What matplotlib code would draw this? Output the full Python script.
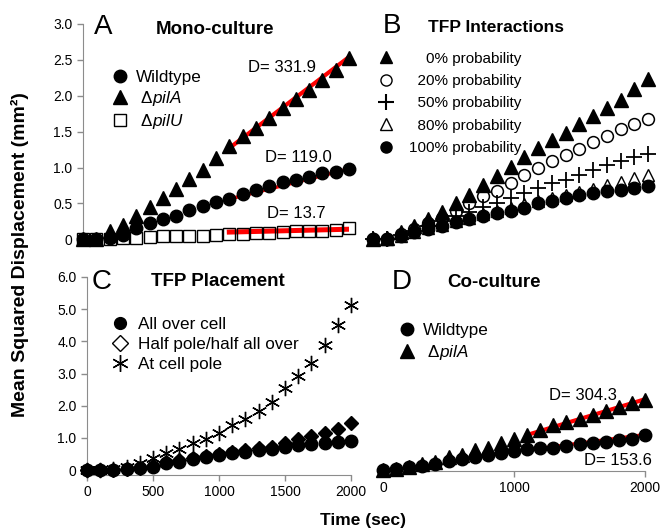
import matplotlib
matplotlib.use('Agg')
import matplotlib.pyplot as plt
from matplotlib.lines import Line2D

plt.rcParams['font.family'] = ['Liberation Sans', 'DejaVu Sans']
plt.rcParams['mathtext.fontset'] = 'custom'
plt.rcParams['mathtext.rm'] = 'Liberation Sans'
plt.rcParams['mathtext.it'] = 'Liberation Sans:italic'

time = [0, 100, 200, 300, 400, 500, 600, 700, 800, 900, 1000,
        1100, 1200, 1300, 1400, 1500, 1600, 1700, 1800, 1900, 2000]

# A: mono-culture
a_wt = [0, 0.01, 0.02, 0.06, 0.16, 0.22, 0.28, 0.33, 0.41, 0.46, 0.52,
        0.56, 0.63, 0.69, 0.74, 0.80, 0.83, 0.87, 0.93, 0.94, 0.98]
a_pila = [0, 0.01, 0.12, 0.20, 0.33, 0.45, 0.58, 0.70, 0.84, 0.97, 1.13,
          1.30, 1.44, 1.55, 1.69, 1.83, 1.95, 2.08, 2.22, 2.36, 2.52]
a_pilu = [0, 0, 0.01, 0.02, 0.02, 0.03, 0.04, 0.04, 0.05, 0.05, 0.06,
          0.07, 0.08, 0.09, 0.09, 0.10, 0.11, 0.12, 0.12, 0.13, 0.15]
a_fit_x = [1100, 2000]
a_fit_pila = [1.27, 2.54]
a_fit_wt = [0.56, 0.98]
a_fit_pilu = [0.10, 0.14]

# B: TFP interactions
b_p0 = [0, 0.02, 0.10, 0.19, 0.28, 0.38, 0.50, 0.62, 0.75, 0.88, 1.01,
        1.15, 1.27, 1.38, 1.48, 1.61, 1.72, 1.83, 1.94, 2.09, 2.23]
b_p20 = [0, 0.01, 0.07, 0.14, 0.23, 0.30, 0.39, 0.50, 0.60, 0.67, 0.79,
         0.89, 1.00, 1.09, 1.18, 1.26, 1.35, 1.44, 1.53, 1.60, 1.67]
b_p50 = [0, 0.01, 0.06, 0.11, 0.19, 0.25, 0.32, 0.38, 0.45, 0.51, 0.58,
         0.65, 0.72, 0.79, 0.83, 0.90, 0.97, 1.04, 1.09, 1.15, 1.19]
b_p80 = [0, 0.01, 0.05, 0.10, 0.15, 0.20, 0.26, 0.30, 0.35, 0.39, 0.44,
         0.49, 0.53, 0.58, 0.61, 0.66, 0.70, 0.76, 0.80, 0.86, 0.90]
b_p100 = [0, 0.01, 0.05, 0.10, 0.14, 0.19, 0.24, 0.28, 0.32, 0.37, 0.40,
          0.44, 0.50, 0.54, 0.58, 0.62, 0.65, 0.67, 0.69, 0.71, 0.74]

# C: TFP placement
c_all = [0, 0, 0.01, 0.02, 0.05, 0.10, 0.21, 0.26, 0.33, 0.39, 0.46,
         0.52, 0.57, 0.62, 0.64, 0.71, 0.78, 0.81, 0.83, 0.88, 0.91]
c_half = [0, 0, 0.01, 0.03, 0.07, 0.13, 0.24, 0.30, 0.37, 0.44, 0.51,
          0.57, 0.63, 0.69, 0.73, 0.85, 0.95, 1.06, 1.14, 1.29, 1.45]
c_pole = [0, 0, 0.03, 0.08, 0.21, 0.36, 0.52, 0.64, 0.83, 0.95, 1.16,
          1.40, 1.60, 1.84, 2.12, 2.54, 2.92, 3.33, 3.88, 4.50, 5.12]

# D: co-culture
d_wt = [0, 0.02, 0.08, 0.12, 0.20, 0.29, 0.33, 0.39, 0.46, 0.52, 0.58,
        0.64, 0.67, 0.70, 0.74, 0.81, 0.85, 0.88, 0.93, 0.98, 1.10]
d_pila = [0, 0.02, 0.10, 0.19, 0.26, 0.39, 0.46, 0.62, 0.70, 0.83, 0.95,
          1.09, 1.24, 1.40, 1.50, 1.58, 1.71, 1.85, 1.97, 2.09, 2.17]
d_fit_x = [1100, 2000]
d_fit_pila = [1.09, 2.20]
d_fit_wt = [0.62, 1.10]

W, H = 666, 531
fig = plt.figure(figsize=(W / 100, H / 100), dpi=100)


def box(l, r, t, b):
    return [l / W, 1 - b / H, (r - l) / W, (b - t) / H]


axA = fig.add_axes(box(83, 349, 24, 245))
axB = fig.add_axes(box(373, 648, 24, 245))
axC = fig.add_axes(box(87, 351, 277, 475))
axD = fig.add_axes(box(383, 645, 277, 471))

gray = '#8c8c8c'
for ax in (axA, axB, axC, axD):
    ax.set_xlim(0, 2000)
    for s in ax.spines.values():
        s.set_visible(False)
        s.set_color(gray)
    ax.tick_params(colors=gray, labelcolor='black', labelsize=10, length=4,
                   width=1)
    ax.patch.set_visible(False)

axA.set_ylim(-0.08, 3.0)
axB.set_ylim(-0.08, 3.0)
axC.set_ylim(-0.155, 6.0)
axD.set_ylim(-0.03, 6.0)

axA.spines['left'].set_visible(True)
axA.spines['left'].set_bounds(-0.08, 3.0)
axA.set_yticks([0, 0.5, 1.0, 1.5, 2.0, 2.5, 3.0])
axA.set_yticklabels(['0', '0.5', '1.0', '1.5', '2.0', '2.5', '3.0'])
axA.set_xticks([])
axB.set_xticks([])
axB.set_yticks([])

axC.spines['left'].set_visible(True)
axC.spines['bottom'].set_visible(True)
axC.set_yticks([0, 1, 2, 3, 4, 5, 6])
axC.set_yticklabels(['0', '1.0', '2.0', '3.0', '4.0', '5.0', '6.0'])
axC.set_xticks([0, 500, 1000, 1500, 2000])

axD.spines['bottom'].set_visible(True)
axD.set_yticks([])
axD.set_xticks([0, 1000, 2000])

kw = dict(linestyle='none', clip_on=False)
red = '#ff0000'
leg_kw = dict(loc='upper left', frameon=False, borderpad=0, borderaxespad=0)

# Panel A
axA.plot(a_fit_x, a_fit_pila, color=red, lw=3, zorder=2)
axA.plot(a_fit_x, a_fit_wt, color=red, lw=2.5, zorder=2)
axA.plot(a_fit_x, a_fit_pilu, color=red, lw=3.6, zorder=2)
axA.plot(time, a_pilu, marker='s', ms=8, mfc='none', mec='black', mew=1,
         zorder=3, **kw)
axA.plot(time, a_wt, marker='o', ms=9, color='black', zorder=3, **kw)
axA.plot(time, a_pila, marker='^', ms=9.5, color='black', zorder=3, **kw)
axA.text(1496, 2.39, 'D= 331.9', ha='center', va='center', fontsize=12)
axA.text(1617, 1.14, 'D= 119.0', ha='center', va='center', fontsize=12)
axA.text(1602, 0.36, 'D= 13.7', ha='center', va='center', fontsize=12)
hA = [Line2D([], [], marker='o', ms=9, color='black', ls='none'),
      Line2D([], [], marker='^', ms=9.5, color='black', ls='none'),
      Line2D([], [], marker='s', ms=8, mfc='none', mec='black', ls='none')]
axA.legend(hA, ['Wildtype', r' $\mathrm{\Delta}\mathit{pilA}$',
                r' $\mathrm{\Delta}\mathit{pilU}$'],
           bbox_to_anchor=(0.105, 0.79), fontsize=12.3, handlelength=1.1,
           handletextpad=0.35, labelspacing=0.22, **leg_kw)

# Panel B
axB.plot(time, b_p100, marker='o', ms=9, color='black', zorder=3, **kw)
axB.plot(time, b_p80, marker='^', ms=8.5, mfc='none', mec='black', mew=1,
         zorder=3, **kw)
axB.plot(time, b_p50, marker='+', ms=11, color='black', mew=1.3, zorder=3,
         **kw)
axB.plot(time, b_p20, marker='o', ms=8.5, mfc='none', mec='black', mew=1.1,
         zorder=3, **kw)
axB.plot(time, b_p0, marker='^', ms=9.5, color='black', zorder=3, **kw)
hB = [Line2D([], [], marker='^', ms=8.5, color='black', ls='none'),
      Line2D([], [], marker='o', ms=8, mfc='none', mec='black', ls='none'),
      Line2D([], [], marker='+', ms=11, color='black', mew=1.5, ls='none'),
      Line2D([], [], marker='^', ms=8, mfc='none', mec='black', ls='none'),
      Line2D([], [], marker='o', ms=8, color='black', ls='none')]
axB.legend(hB, ['    0% probability', '  20% probability',
                '  50% probability', '  80% probability',
                '100% probability'],
           bbox_to_anchor=(0.015, 0.875), fontsize=11, handlelength=1.2,
           handletextpad=0.9, labelspacing=0.55, **leg_kw)

# Panel C
axC.plot(time, c_half, marker='D', ms=7, color='black', zorder=3, **kw)
axC.plot(time, c_all, marker='o', ms=9, color='black', zorder=3, **kw)
axC.plot(time, c_pole, marker=(6, 2, 0), ms=11, color='black', mew=1,
         zorder=3, **kw)
hC = [Line2D([], [], marker='o', ms=8.5, color='black', ls='none'),
      Line2D([], [], marker='D', ms=8, mfc='none', mec='black', ls='none'),
      Line2D([], [], marker=(6, 2, 0), ms=12, color='black', mew=1,
             ls='none')]
axC.legend(hC, ['All over cell', 'Half pole/half all over', 'At cell pole'],
           bbox_to_anchor=(0.09, 0.80), fontsize=12.3, handlelength=1.1,
           handletextpad=0.5, labelspacing=0.3, **leg_kw)

# Panel D
axD.plot(d_fit_x, d_fit_pila, color=red, lw=3, zorder=2)
axD.plot(d_fit_x, d_fit_wt, color=red, lw=2.5, zorder=2)
axD.plot(time, d_wt, marker='o', ms=9, color='black', zorder=3, **kw)
axD.plot(time, d_pila, marker='^', ms=9.5, color='black', zorder=3, **kw)
axD.text(1527, 2.33, 'D= 304.3', ha='center', va='center', fontsize=12)
axD.text(1794, 0.31, 'D= 153.6', ha='center', va='center', fontsize=12)
hD = [Line2D([], [], marker='o', ms=9, color='black', ls='none'),
      Line2D([], [], marker='^', ms=9.5, color='black', ls='none')]
axD.legend(hD, ['Wildtype', r' $\mathrm{\Delta}\mathit{pilA}$'],
           bbox_to_anchor=(0.055, 0.765), fontsize=12.3, handlelength=1.1,
           handletextpad=0.4, labelspacing=0.3, **leg_kw)

# Panel letters and titles
panels = [(axA, 'A', 0.075, 0.985, 'Mono-culture', 0.496, 0.977, 13.5),
          (axB, 'B', 0.069, 0.99, 'TFP Interactions', 0.447, 0.984, 12.5),
          (axC, 'C', 0.057, 0.975, 'TFP Placement', 0.496, 0.975, 13.5),
          (axD, 'D', 0.073, 0.974, 'Co-culture', 0.424, 0.974, 13.5)]
for ax, letter, lx, ly, title, tx, ty, fs in panels:
    ax.text(lx, ly, letter, transform=ax.transAxes, ha='center', va='center',
            fontsize=20)
    ax.text(tx, ty, title, transform=ax.transAxes, ha='center', va='center',
            fontsize=fs, fontweight='bold')

fig.text(20 / W, 1 - 255 / H, 'Mean Squared Displacement (mm²)',
         rotation=90, ha='center', va='center', fontsize=14,
         fontweight='bold')
fig.text(363 / W, 1 - 520 / H, 'Time (sec)', ha='center', va='center',
         fontsize=12.5, fontweight='bold')

fig.savefig('out.png', dpi=100)
